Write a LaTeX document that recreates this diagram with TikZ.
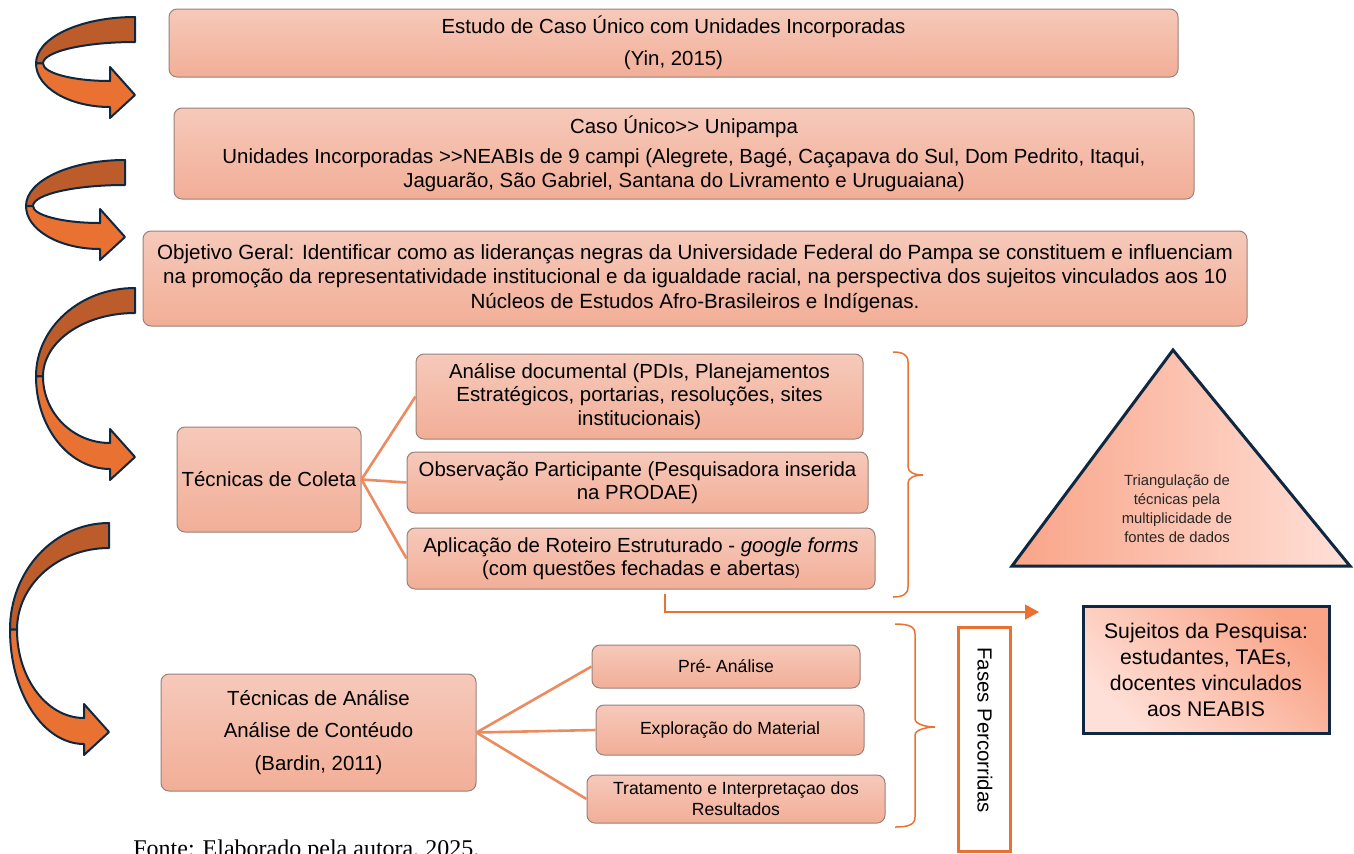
\documentclass[tikz,border=0pt]{standalone}
\usepackage{fontspec}
\setmainfont{Liberation Sans}
\newfontfamily\timesfont{Liberation Serif}
\usetikzlibrary{arrows.meta}

\definecolor{boxtop}{HTML}{F6C9BA}
\definecolor{boxbot}{HTML}{F2AE97}
\definecolor{boxline}{HTML}{9A8079}
\definecolor{navy}{HTML}{0E2841}
\definecolor{linkcol}{HTML}{EC8A60}
\definecolor{orangeln}{HTML}{E97132}
\definecolor{arrbrown}{HTML}{BC5C2B}
\definecolor{arrorange}{HTML}{E97132}
\definecolor{salmondark}{HTML}{F9A487}
\definecolor{salmonlight}{HTML}{FFE0D8}

\tikzset{
  box/.style={draw=boxline, line width=0.5pt, rounded corners=4pt,
    top color=boxtop, bottom color=boxbot, align=center, inner sep=1pt,
    font=\fontsize{10.2}{11.75}\selectfont},
  smallbox/.style={box, font=\fontsize{8.8}{10.5}\selectfont},
  link/.style={draw=linkcol, line width=1.3pt},
  flow/.style={draw=orangeln, line width=0.75pt, -{Triangle[length=7pt,width=7.5pt]}},
  brace/.style={draw=orangeln, line width=0.75pt},
}

% curved arrow: right x, top y, height
\newcommand{\bentarrow}[3]{%
  \pgfmathsetmacro{\ym}{#2+0.46*#3}
  \pgfmathsetmacro{\yb}{#2+#3}
  \fill[arrbrown, draw=navy, line width=1pt, line join=round]
    (#1,#2) .. controls ({#1-55},#2) and ({#1-99},{\ym-0.55*(\ym-#2)}) .. ({#1-99},\ym)
    -- ({#1-92},\ym) .. controls ({#1-92},{\ym-0.55*(\ym-#2-25)}) and ({#1-51},{#2+25}) .. (#1,{#2+25})
    -- cycle;
  \fill[arrorange, draw=navy, line width=1pt, line join=round]
    ({#1-99},\ym) .. controls ({#1-99},{\ym+0.55*(\yb-11-\ym)}) and ({#1-66},{\yb-11}) .. ({#1-25},{\yb-11})
    -- ({#1-25},\yb) -- (#1,{\yb-23}) -- ({#1-25},{\yb-51}) -- ({#1-25},{\yb-37})
    .. controls ({#1-62},{\yb-37}) and ({#1-92},{\ym+0.55*(\yb-37-\ym)}) .. ({#1-92},\ym)
    -- cycle;
}

% right brace: hook x, stem x, tip x, top y, tip y, bottom y
\newcommand{\sidebrace}[6]{%
  \draw[brace] (#1,#4) .. controls ({#2-5},#4) and (#2,{#4+3}) .. (#2,{#4+10})
    -- (#2,{#5-8}) .. controls (#2,{#5-3}) and ({#3-9},#5) .. (#3,#5)
    .. controls ({#3-9},#5) and (#2,{#5+3}) .. (#2,{#5+8})
    -- (#2,{#6-10}) .. controls (#2,{#6-3}) and ({#2-5},#6) .. (#1,#6);
}

\begin{document}
\begin{tikzpicture}[x=0.5pt, y=-0.5pt]
  \useasboundingbox (0,0) rectangle (1354,853);

  % curved arrows on the left
  \bentarrow{135}{17}{101}
  \bentarrow{125}{160}{100}
  \bentarrow{135}{288}{192}
  \bentarrow{109}{523}{232}

  % top boxes
  \node[box, minimum width=504.5pt, minimum height=34pt] (caso) at (673.5,43)
    {Estudo de Caso Único com Unidades Incorporadas\\[4.5pt](Yin, 2015)};
  \node[box, minimum width=510pt, minimum height=45.5pt] (unid) at (684,153.5)
    {Caso Único>{}> Unipampa\\[3.5pt]Unidades Incorporadas >{}>NEABIs de 9 campi (Alegrete, Bagé, Caçapava do Sul, Dom Pedrito, Itaqui,\\Jaguarão, São Gabriel, Santana do Livramento e Uruguaiana)};
  \node[box, minimum width=552pt, minimum height=47.5pt, font=\fontsize{10.3}{12.25}\selectfont] (obj) at (695,278.5)
    {Objetivo Geral: Identificar como as lideranças negras da Universidade Federal do Pampa se constituem e influenciam\\na promoção da representatividade institucional e da igualdade racial, na perspectiva dos sujeitos vinculados aos 10\\Núcleos de Estudos Afro-Brasileiros e Indígenas.};

  % coleta
  \node[box, minimum width=92pt, minimum height=52.5pt] (coleta) at (269,479.5) {Técnicas de Coleta};
  \node[box, minimum width=223.5pt, minimum height=42.5pt] (doc) at (639.5,396.5)
    {Análise documental (PDIs, Planejamentos\\Estratégicos, portarias, resoluções, sites\\institucionais)};
  \node[box, minimum width=230.5pt, minimum height=30.5pt] (obs) at (637.5,482.5)
    {Observação Participante (Pesquisadora inserida\\na PRODAE)};
  \node[box, minimum width=234pt, minimum height=30.5pt] (aplic) at (641,558.5)
    {Aplicação de Roteiro Estruturado - \textit{google forms}\\(com questões fechadas e abertas{\fontsize{7.5}{9}\selectfont)}};

  \draw[link] (coleta.east) -- (doc.west);
  \draw[link] (coleta.east) -- (obs.west);
  \draw[link] (coleta.east) -- (aplic.west);

  % analise
  \node[box, minimum width=157.5pt, minimum height=58.5pt] (analise) at (318.5,732.5)
    {Técnicas de Análise\\[4.5pt]Análise de Contéudo\\[4.5pt](Bardin, 2011)};
  \node[smallbox, minimum width=134pt, minimum height=21.5pt] (pre) at (726,666.5) {Pré- Análise};
  \node[smallbox, minimum width=134pt, minimum height=25pt] (explo) at (730,730) {Exploração do Material};
  \node[smallbox, minimum width=149pt, minimum height=24pt] (trat) at (736,799)
    {Tratamento e Interpretaçao dos\\Resultados};

  \draw[link] (analise.east) -- (pre.west);
  \draw[link] (analise.east) -- (explo.west);
  \draw[link] (analise.east) -- (trat.west);

  % braces
  \sidebrace{893}{908}{923}{352}{475}{597}
  \sidebrace{895}{915}{935}{624}{727}{827}

  % triangle
  \fill[left color=salmondark, right color=salmonlight] (1173,350) -- (1350,566) -- (1012,566) -- cycle;
  \draw[navy, line width=1.5pt] (1173,350) -- (1350,566) -- (1012,566) -- cycle;
  \node[align=center, font=\fontsize{7.4}{9.5}\selectfont, text=black!85] (tri) at (1177,508.5)
    {Triangulação de\\técnicas pela\\multiplicidade de\\fontes de dados};

  % sujeitos
  \node[draw=navy, line width=1.5pt, top color=salmondark, bottom color=salmonlight, shading angle=-45,
    minimum width=123pt, minimum height=63.5pt, align=center,
    font=\fontsize{10.6}{13}\selectfont] (sujeitos) at (1206,669.5)
    {Sujeitos da Pesquisa:\\estudantes, TAEs,\\docentes vinculados\\aos NEABIS};
  \coordinate (sujTip) at (1039,612);
  \draw[flow] ([xshift=12pt,yshift=-2pt]aplic.south) |- (sujTip);

  % fases
  \node[draw=orangeln, line width=1.5pt, fill=white, minimum width=26pt, minimum height=112pt] (fases) at (984,739) {};
  \node[rotate=-90, font=\fontsize{10.2}{12}\selectfont] (fasesText) at (985,730) {Fases Percorridas};

  % source
  \node[anchor=base west, inner sep=0pt, font=\timesfont\fontsize{12}{14}\selectfont] (fonte) at (133,856)
    {Fonte: Elaborado pela autora, 2025.};
\end{tikzpicture}
\end{document}
